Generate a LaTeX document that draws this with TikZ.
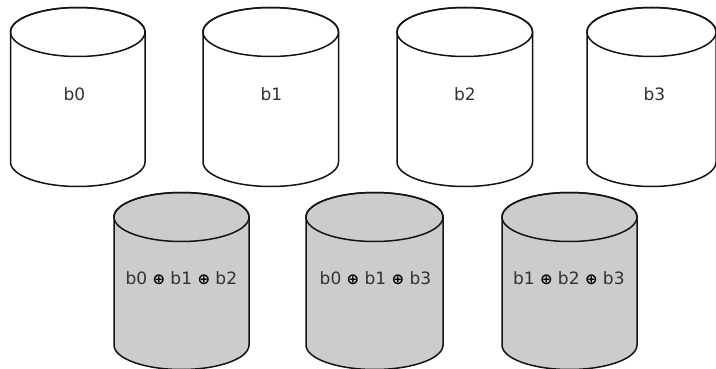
\documentclass[tikz,border=0pt]{standalone}
\usepackage{fontspec}
\setmainfont{DejaVu Sans}
\definecolor{fillgray}{RGB}{204,204,204}
\definecolor{txtgray}{RGB}{50,50,50}
\definecolor{linecol}{RGB}{20,20,20}
\newcommand{\mycyl}[6]{% left, right, top cy, bottom cy, ry, fill
  \pgfmathsetmacro{\rxx}{(#2-#1)/2}
  \pgfmathsetmacro{\cxx}{(#2+#1)/2}
  \filldraw[cylline, fill=#6] (#1,#3) -- (#1,#4)
    arc[start angle=180, end angle=0, x radius=\rxx, y radius=#5]
    -- (#2,#3)
    arc[start angle=0, end angle=-180, x radius=\rxx, y radius=#5] -- cycle;
  \draw[cylline] (\cxx,#3) ellipse[x radius=\rxx, y radius=#5];
}
\newcommand{\xo}{{\fontsize{15}{15}\selectfont\bfseries\color{black}⊕}}
\begin{document}
\begin{tikzpicture}[x=1pt,y=-1pt,
  cylline/.style={draw=linecol, line width=1.5pt},
  lbl/.style={anchor=base, text=txtgray, font=\fontsize{17}{17}\selectfont, inner sep=0pt}]
\useasboundingbox (0,0) rectangle (716,369);
\clip (0,0) rectangle (716,369);
% top row
\mycyl{10.5}{145}{32}{162}{24.5}{white}
\mycyl{203}{338.5}{32}{162}{24.5}{white}
\mycyl{397}{532.5}{32}{162}{24.5}{white}
\mycyl{587}{716}{32}{162}{24.5}{white}
% bottom row
\mycyl{114}{249}{217}{345}{24.5}{fillgray}
\mycyl{306}{443}{217}{345}{24.5}{fillgray}
\mycyl{502}{637}{217}{345}{24.5}{fillgray}
% labels
\node[lbl] (t0) at (74.5,101) {b0};
\node[lbl] (t1) at (271.5,101) {b1};
\node[lbl] (t2) at (465,101) {b2};
\node[lbl] (t3) at (654.5,101) {b3};
\node[lbl] (p0) at (181.3,284) {b0 \xo{} b1 \xo{} b2};
\node[lbl] (p1) at (375.5,284) {b0 \xo{} b1 \xo{} b3};
\node[lbl] (p2) at (568.8,284) {b1 \xo{} b2 \xo{} b3};
\end{tikzpicture}
\end{document}
